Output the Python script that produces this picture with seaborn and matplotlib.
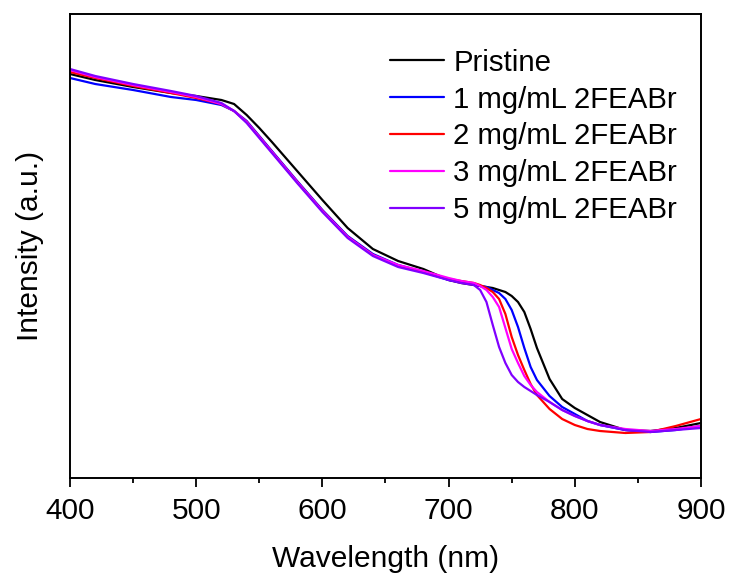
import matplotlib
matplotlib.use("Agg")
import matplotlib.pyplot as plt
import seaborn as sns
import pandas as pd
from matplotlib.ticker import MultipleLocator

wavelength = [400, 420, 450, 480, 500, 520, 530, 540, 550, 560, 580, 600, 620, 640, 660,
              680, 700, 710, 720, 725, 730, 735, 740, 745, 750, 755, 760, 765, 770, 780,
              790, 800, 810, 820, 840, 860, 880, 900]

pristine = [404, 398, 391, 385, 382, 378, 374, 363, 350, 336, 307, 278, 250, 229, 217,
            209, 198, 195, 193, 192, 191, 190, 188, 186, 182, 176, 166, 149, 130, 99,
            79, 70, 63, 56, 48, 47, 50, 55]
mg1 = [400, 394, 388, 381, 378, 373, 367, 357, 342, 327, 297, 268, 242, 224, 213,
       206, 198, 196, 194, 192, 191, 188, 185, 179, 168, 151, 130, 111, 98, 82,
       71, 64, 57, 53, 48, 46, 48, 52]
mg2 = [406, 400, 392, 385, 380, 374, 367, 356, 341, 326, 296, 267, 241, 223, 212,
       206, 199, 197, 195, 193, 190, 186, 179, 164, 141, 123, 108, 94, 83, 69,
       59, 53, 49, 47, 45, 46, 52, 59]
mg3 = [408, 401, 393, 386, 381, 374, 367, 356, 341, 326, 296, 267, 241, 223, 213,
       207, 200, 197, 195, 192, 188, 181, 171, 150, 129, 115, 102, 93, 86, 76,
       68, 62, 57, 53, 49, 47, 49, 52]
mg5 = [409, 402, 394, 387, 382, 375, 367, 355, 340, 325, 295, 266, 240, 222, 211,
       205, 198, 195, 193, 188, 176, 153, 131, 115, 103, 96, 91, 87, 83, 76,
       68, 62, 57, 53, 48, 46, 48, 50]

labels = ["Pristine", "1 mg/mL 2FEABr", "2 mg/mL 2FEABr", "3 mg/mL 2FEABr", "5 mg/mL 2FEABr"]
colors = ["#000000", "#0000FF", "#FF0000", "#FF00FF", "#8000FF"]
series = [pristine, mg1, mg2, mg3, mg5]

rows = []
for lab, vals in zip(labels, series):
    for w, v in zip(wavelength, vals):
        rows.append({"Wavelength": w, "Intensity": v, "Sample": lab})
df = pd.DataFrame(rows)

sns.set_theme(style="ticks")
plt.rcParams["font.family"] = ["Liberation Sans", "DejaVu Sans"]
plt.rcParams["text.color"] = "black"
plt.rcParams["axes.labelcolor"] = "black"
plt.rcParams["xtick.color"] = "black"

fig = plt.figure(figsize=(7.31, 5.75), dpi=100)
ax = fig.add_axes([70 / 731, 1 - 478 / 575, 631 / 731, 464 / 575])

sns.lineplot(data=df, x="Wavelength", y="Intensity", hue="Sample",
             hue_order=labels, palette=dict(zip(labels, colors)),
             linewidth=1.6, sort=False, ax=ax)

ax.set_xlim(400, 900)
ax.set_ylim(0, 464)
ax.xaxis.set_major_locator(MultipleLocator(100))
ax.xaxis.set_minor_locator(MultipleLocator(50))
ax.set_yticks([])
ax.tick_params(axis="x", which="major", direction="out", length=6.5, width=1.3,
               labelsize=21.5, pad=7.5, colors="black")
ax.tick_params(axis="x", which="minor", direction="out", length=3.5, width=1.3)
for sp in ax.spines.values():
    sp.set_visible(True)
    sp.set_linewidth(1.4)
    sp.set_color("black")

ax.set_xlabel("Wavelength (nm)", fontsize=21.5, labelpad=14, color="black")
ax.set_ylabel("Intensity (a.u.)", fontsize=21.5, labelpad=19, color="black")

leg = ax.legend(loc="upper right", bbox_to_anchor=(0.962, 0.925), frameon=False,
                fontsize=21.2, handlelength=1.85, handletextpad=0.3,
                labelspacing=0.3, borderpad=0, borderaxespad=0)
for text in leg.get_texts():
    text.set_color("black")
for line in leg.get_lines():
    line.set_linewidth(1.6)

fig.savefig("out.png", dpi=100)
